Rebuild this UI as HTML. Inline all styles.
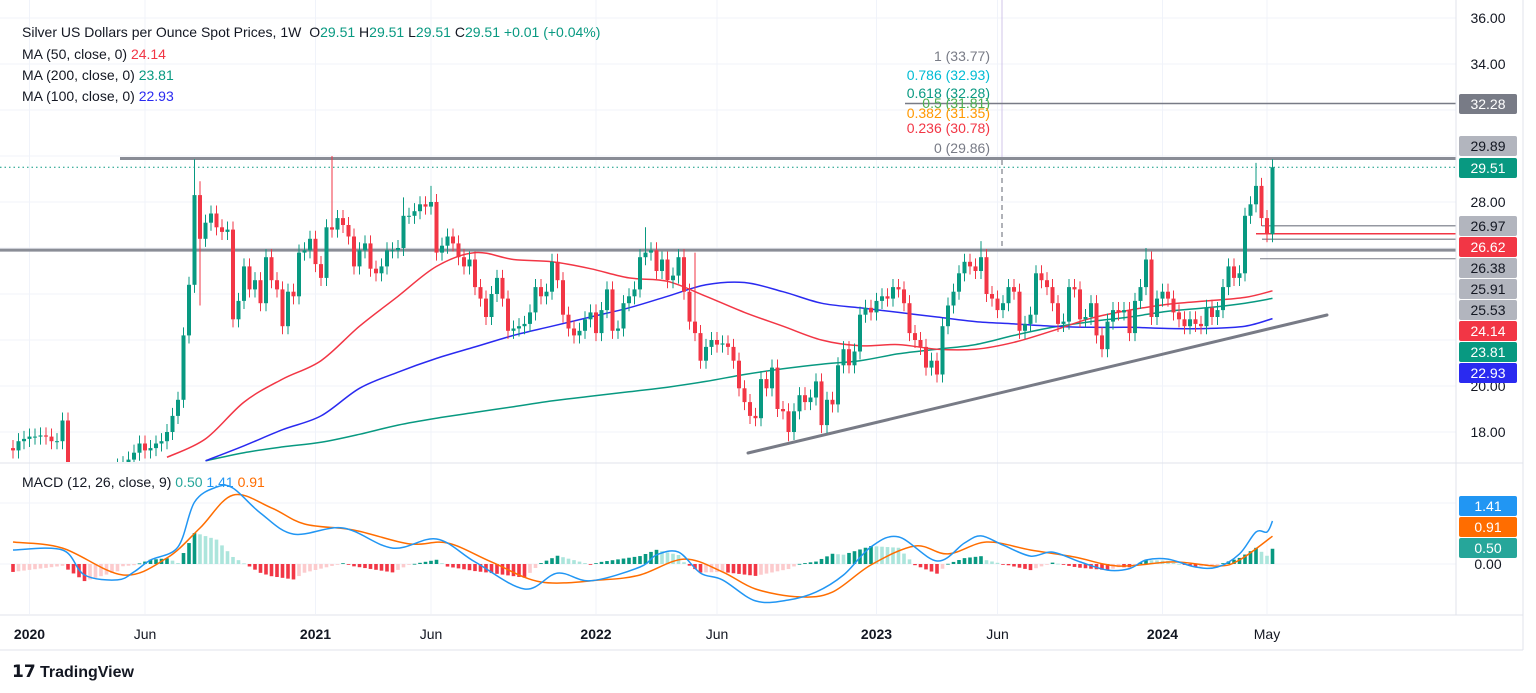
<!DOCTYPE html>
<html><head><meta charset="utf-8"><style>
html,body{margin:0;padding:0;background:#fff;}
svg{display:block;font-family:"Liberation Sans",sans-serif;}
</style></head><body>
<svg id="c" width="1536" height="693" viewBox="0 0 1536 693" xmlns="http://www.w3.org/2000/svg">
<defs>
<clipPath id="mainClip"><rect x="0" y="0" width="1456" height="462"/></clipPath>
<clipPath id="macdClip"><rect x="0" y="464" width="1456" height="150"/></clipPath>
</defs>
<g id="grid"></g>
<g id="main" clip-path="url(#mainClip)"></g>
<g id="macd" clip-path="url(#macdClip)"></g>
<g id="axes"></g>
<g id="legend">
<text x="22" y="37" font-size="14" fill="#131722">Silver US Dollars per Ounce Spot Prices, 1W <tspan dx="4">O</tspan><tspan fill="#089981">29.51</tspan> <tspan fill="#131722">H</tspan><tspan fill="#089981">29.51</tspan> <tspan fill="#131722">L</tspan><tspan fill="#089981">29.51</tspan> <tspan fill="#131722">C</tspan><tspan fill="#089981">29.51 +0.01 (+0.04%)</tspan></text>
<text x="22" y="59" font-size="14" fill="#131722">MA (50, close, 0) <tspan fill="#f23645">24.14</tspan></text>
<text x="22" y="80" font-size="14" fill="#131722">MA (200, close, 0) <tspan fill="#089981">23.81</tspan></text>
<text x="22" y="101" font-size="14" fill="#131722">MA (100, close, 0) <tspan fill="#2a2af0">22.93</tspan></text>
<text x="22" y="487" font-size="14" fill="#131722">MACD (12, 26, close, 9) <tspan fill="#26a69a">0.50</tspan> <tspan fill="#2196f3">1.41</tspan> <tspan fill="#ff6d00">0.91</tspan></text>
</g>
<g id="fib" font-size="14" text-anchor="end">
<text x="990" y="61" fill="#787b86">1 (33.77)</text>
<text x="990" y="80" fill="#00bcd4">0.786 (32.93)</text>
<text x="990" y="98" fill="#089981">0.618 (32.28)</text>
<text x="990" y="108" fill="#4caf50">0.5 (31.81)</text>
<text x="990" y="118" fill="#ff9800">0.382 (31.35)</text>
<text x="990" y="133" fill="#f23645">0.236 (30.78)</text>
<text x="990" y="153" fill="#787b86">0 (29.86)</text>
</g>
<g>
<text x="12" y="677" font-size="17" font-weight="bold" fill="#131722">𝟭𝟳</text>
<text x="40" y="677" font-size="16" font-weight="bold" fill="#131722">TradingView</text>
</g>
</svg>
<script>
// ---- data ----
const closes = [17.2,17.6,17.7,17.8,17.8,17.85,17.8,17.6,17.6,18.5,
16.0,14.5,14.0,14.8,15.0,15.3,15.5,15.8,16.2,16.5,
16.6,16.8,17.1,17.5,17.2,17.3,17.5,17.6,18.0,18.7,
19.4,22.2,24.4,28.3,26.4,27.1,27.5,26.9,26.7,26.8,
22.9,23.7,25.2,24.2,24.6,23.6,25.6,24.6,24.2,22.6,
24.1,23.9,25.8,25.9,26.4,25.3,24.7,26.9,26.8,27.3,
27.0,26.5,25.2,25.9,26.2,25.1,24.9,25.2,25.9,25.9,
26.0,27.4,27.4,27.6,27.9,27.8,28.0,25.8,26.1,26.5,
26.2,25.6,25.2,25.5,24.3,23.8,23.0,24.0,24.7,23.8,
22.4,22.5,22.6,22.7,23.2,24.3,23.9,24.1,25.4,24.6,
23.1,22.5,22.2,22.4,22.9,23.2,22.3,23.3,24.2,22.4,
22.5,23.6,23.9,24.2,25.6,25.8,25.9,25.0,25.5,24.6,
24.8,25.6,24.1,22.8,22.3,21.1,21.7,22.0,21.8,21.85,
21.7,21.1,19.9,19.3,18.7,18.6,20.3,19.9,20.8,19.0,
18.9,18.0,18.9,19.6,19.3,19.5,20.2,18.3,19.4,19.2,
20.9,21.6,20.9,21.5,23.1,23.4,23.2,23.7,23.9,23.8,
24.3,24.2,23.6,22.3,22.0,21.7,20.8,21.1,20.5,22.6,
23.5,24.1,24.9,25.4,25.2,25.0,25.6,24.0,23.8,23.3,
23.6,24.3,24.1,22.4,22.7,23.1,24.9,24.6,24.3,23.6,
22.7,22.8,24.3,24.2,22.9,23.0,23.6,22.2,21.6,22.8,
23.3,23.2,23.3,22.3,23.7,24.3,25.5,23.0,23.8,24.1,
23.8,23.2,22.9,22.6,22.9,22.7,22.6,23.4,23.0,23.3,
24.3,25.2,24.7,24.9,27.4,27.9,28.7,27.3,26.6,29.51];
const firstOpen = 17.3;
const spikeWeeks = [33,34,58,71,76,115,124,141,176,206,226];
const spikeHigh  = [29.86,28.9,30.0,28.2,28.7,26.9,25.8,null,26.3,26.0,29.7];
const spikeLow   = [null,23.5,null,null,null,null,null,17.6,null,null,null];
const ma50Start = 28;
const ma50 = [16.9,17.7,19.3,20.3,21.1,22.6,23.9,25.2,25.8,25.5,25.4,25.1,24.7,24.55,23.9,23.2,22.6,22.0,21.75,21.8,21.6,21.6,21.9,22.4,22.95,23.3,23.55,23.7,23.85];
const ma100Start = 35;
const ma100 = [16.75,17.4,18.1,18.7,19.9,20.6,21.2,21.7,22.2,22.6,23.0,23.4,23.9,24.4,24.5,24.1,23.6,23.4,23.2,23.0,22.8,22.7,22.6,22.55,22.55,22.5,22.5,22.6];
const ma200Start = 35;
const ma200 = [16.75,17.1,17.35,17.55,17.9,18.3,18.6,18.85,19.1,19.35,19.55,19.75,19.95,20.2,20.5,20.75,20.95,21.1,21.4,21.6,21.8,22.2,22.55,22.8,23.0,23.25,23.4,23.6];
const maStep = 7;
const ma50Last = 24.14, ma100Last = 22.93, ma200Last = 23.81;
const macdWeeks = [0,9,13,19,22,25,30,33,37,40,45,51,60,69,77,84,93,99,105,114,117,121,125,129,135,141,146,151,156,161,168,173,176,180,185,189,194,199,203,206,210,215,219,223,226,228,229];
const macdVals  = [0.46,0.46,-0.36,-0.52,-0.26,0.13,0.56,2.03,2.52,2.49,1.67,0.98,1.18,0.52,0.82,0.07,-0.82,-0.3,-0.55,-0.1,0.3,0.39,-0.3,-0.52,-1.21,-1.18,-0.92,-0.36,0.56,0.89,0.1,0.69,0.92,0.62,0.26,0.39,0.07,-0.2,-0.15,0.13,0.16,-0.1,-0.1,0.33,1.05,1.05,1.41];
const sigWeeks = [0,9,20,28,34,40,47,53,62,72,79,87,96,107,114,122,129,135,143,149,156,164,170,177,185,193,201,211,219,223,229];
const sigVals  = [0.72,0.52,-0.36,0.2,1.18,2.26,1.84,1.31,1.11,0.66,0.69,0.07,-0.59,-0.52,-0.36,0.16,-0.26,-0.82,-1.08,-0.92,-0.03,0.59,0.33,0.72,0.46,0.23,-0.07,0.07,-0.07,0.13,0.91];
const priceTicks = [36,34,28,20,18];
const priceGrid = [36,34,32,30,28,26,24,22,20,18];
const timeLabels = ["2020","Jun","2021","Jun","2022","Jun","2023","Jun","2024","May"];
const timeWeeks  = [3,24,55,76,106,128,157,179,209,228];
const timeBold   = [true,false,true,false,true,false,true,false,true,false];

// ---- scales ----
const X0 = 13, XS = 5.5;
const xw = w => X0 + w * XS;
const yp = p => 18 + (36 - p) * 23.0;
const ym = v => 564 - v * 30.5;
const NS = "http://www.w3.org/2000/svg";
function mk(tag, attrs, parent) {
  const e = document.createElementNS(NS, tag);
  for (const k in attrs) e.setAttribute(k, attrs[k]);
  parent.appendChild(e);
  return e;
}
function smoothPath(pts) {
  let d = 'M' + pts[0][0].toFixed(1) + ',' + pts[0][1].toFixed(1);
  for (let i = 0; i < pts.length - 1; i++) {
    const p0 = pts[Math.max(0, i - 1)], p1 = pts[i], p2 = pts[i + 1], p3 = pts[Math.min(pts.length - 1, i + 2)];
    const c1x = p1[0] + (p2[0] - p0[0]) / 6, c1y = p1[1] + (p2[1] - p0[1]) / 6;
    const c2x = p2[0] - (p3[0] - p1[0]) / 6, c2y = p2[1] - (p3[1] - p1[1]) / 6;
    d += ' C' + c1x.toFixed(1) + ',' + c1y.toFixed(1) + ' ' + c2x.toFixed(1) + ',' + c2y.toFixed(1) + ' ' + p2[0].toFixed(1) + ',' + p2[1].toFixed(1);
  }
  return d;
}
const G = document.getElementById('grid');
const M = document.getElementById('main');
const D = document.getElementById('macd');
const A = document.getElementById('axes');

// grid
priceGrid.forEach(p => {
  const l = mk('line', {x1:0, x2:1456, y1:yp(p), y2:yp(p), stroke:'#f0f3fa', 'stroke-width':1}, G);
  
  
});
[ym(2), ym(0)].forEach(y => {
  const l = mk('line', {x1:0, x2:1456, y1:y, y2:y, stroke:'#f0f3fa', 'stroke-width':1}, G);
  
  
});
timeWeeks.forEach(w => {
  const l = mk('line', {x1:xw(w), x2:xw(w), y1:0, y2:614, stroke:'#f0f3fa', 'stroke-width':1}, G);
  
  
});

function hline(y, x1, x2, color, sw, name, dash) {
  const l = mk('line', {x1:x1, x2:x2, y1:y, y2:y, stroke:color, 'stroke-width':sw}, M);
  if (dash) l.setAttribute('stroke-dasharray', dash);
  
  
}
let vl = mk('line', {x1:1002, x2:1002, y1:0, y2:158, stroke:'#d1c4e9', 'stroke-width':1}, M);


vl = mk('line', {x1:1002, x2:1002, y1:160, y2:248, stroke:'#9598a1', 'stroke-width':1.5, 'stroke-dasharray':'5 4'}, M);



hline(yp(25.91), 0, 1456, '#8a8d96', 3, 'support-line-25-91');
hline(yp(29.89), 120, 1456, '#8a8d96', 3, 'resistance-line-29-89');
hline(yp(32.28), 905, 1456, '#787b86', 1.5, 'fib-line-32-28');
hline(yp(26.97), 1262, 1456, '#9598a1', 1.5, 'level-26-97');
hline(yp(26.62), 1256, 1456, '#f23645', 1.5, 'level-26-62');
hline(yp(26.38), 1262, 1456, '#9598a1', 1.5, 'level-26-38');
hline(yp(25.53), 1260, 1456, '#787b86', 1, 'level-25-53');
hline(yp(29.51), 0, 1456, '#089981', 1, 'last-price-line', '1.5 3');

const tl = mk('line', {x1:748, y1:453, x2:1327, y2:315, stroke:'#787b86', 'stroke-width':3, 'stroke-linecap':'round'}, M);



function maLine(start, vals, last, color, name) {
  const pts = vals.map((v, i) => [xw(start + i * maStep), yp(v)]);
  pts.push([xw(closes.length - 1), yp(last)]);
  const pl = mk('path', {d: smoothPath(pts), fill:'none', stroke:color, 'stroke-width':1.5}, M);
  
  
}
maLine(ma200Start, ma200, ma200Last, '#089981', 'ma200-line');
maLine(ma100Start, ma100, ma100Last, '#2a2af0', 'ma100-line');
maLine(ma50Start, ma50, ma50Last, '#f23645', 'ma50-line');

for (let i = 0; i < closes.length; i++) {
  const o = i === 0 ? firstOpen : closes[i - 1];
  const c = closes[i];
  let h = Math.max(o, c) + 0.35, l = Math.min(o, c) - 0.35;
  const si = spikeWeeks.indexOf(i);
  if (si >= 0) {
    if (spikeHigh[si] !== null) h = spikeHigh[si];
    if (spikeLow[si] !== null) l = spikeLow[si];
  }
  const col = c >= o ? '#089981' : '#f23645';
  const x = xw(i);
  const g = mk('g', {}, M);
  
  
  mk('line', {x1:x, x2:x, y1:yp(h), y2:yp(l), stroke:col, 'stroke-width':1}, g);
  const top = yp(Math.max(o, c)), bot = yp(Math.min(o, c));
  mk('rect', {x:x - 2, y:top, width:4, height:Math.max(1, bot - top), fill:col}, g);
}

function interp(ws, vs, w) {
  if (w <= ws[0]) return vs[0];
  for (let k = 1; k < ws.length; k++) {
    if (w <= ws[k]) { const t = (w - ws[k-1]) / (ws[k] - ws[k-1]); return vs[k-1] + t * (vs[k] - vs[k-1]); }
  }
  return vs[vs.length - 1];
}
let prevH = 0;
for (let i = 0; i < closes.length; i++) {
  const hv = interp(macdWeeks, macdVals, i) - interp(sigWeeks, sigVals, i);
  let col;
  if (hv >= 0) col = hv >= prevH ? '#089981' : '#ace5dc';
  else col = hv <= prevH ? '#f23645' : '#fccbcd';
  prevH = hv;
  const y0 = ym(0), y1 = ym(hv);
  const r = mk('rect', {x:xw(i) - 1.8, y:Math.min(y0, y1), width:3.6, height:Math.max(0.8, Math.abs(y1 - y0)), fill:col}, D);
  
  
}
function mline(ws, vs, color, name) {
  const pts = ws.map((w, k) => [xw(w), ym(vs[k])]);
  const pl = mk('path', {d: smoothPath(pts), fill:'none', stroke:color, 'stroke-width':1.5}, D);
  
  
}
mline(sigWeeks, sigVals, '#ff6d00', 'signal-line');
mline(macdWeeks, macdVals, '#2196f3', 'macd-line');

[[0,463,1523,463],[0,615,1523,615],[1523,0,1523,650],[1456,0,1456,615],[0,650,1523,650]].forEach(s => {
  const l = mk('line', {x1:s[0], y1:s[1], x2:s[2], y2:s[3], stroke:'#e0e3eb', 'stroke-width':1}, A);
  
  
});
priceTicks.forEach(p => {
  const t = mk('text', {x:1488, y:yp(p) + 5, 'font-size':14, fill:'#131722', 'text-anchor':'middle'}, A);
  t.textContent = p.toFixed(2);
  
  
});
const t0 = mk('text', {x:1488, y:ym(0) + 5, 'font-size':14, fill:'#131722', 'text-anchor':'middle'}, A);
t0.textContent = '0.00';



function box(y, label, bg, fg, name) {
  const g = mk('g', {}, A);
  
  
  mk('rect', {x:1459, y:y - 10, width:58, height:20, rx:2, fill:bg}, g);
  const t = mk('text', {x:1488, y:y + 5, 'font-size':14, fill:fg, 'text-anchor':'middle'}, g);
  t.textContent = label;
}
box(104, '32.28', '#787b86', '#fff', 'label-32-28');
box(146, '29.89', '#b2b5be', '#131722', 'label-29-89');
box(168, '29.51', '#089981', '#fff', 'label-last-price');
box(226, '26.97', '#b2b5be', '#131722', 'label-26-97');
box(247, '26.62', '#f23645', '#fff', 'label-26-62');
box(268, '26.38', '#b2b5be', '#131722', 'label-26-38');
box(289, '25.91', '#b2b5be', '#131722', 'label-25-91');
box(310, '25.53', '#b2b5be', '#131722', 'label-25-53');
box(331, '24.14', '#f23645', '#fff', 'label-ma50');
box(352, '23.81', '#089981', '#fff', 'label-ma200');
box(373, '22.93', '#2a2af0', '#fff', 'label-ma100');
box(506, '1.41', '#2196f3', '#fff', 'label-macd');
box(527, '0.91', '#ff6d00', '#fff', 'label-signal');
box(548, '0.50', '#26a69a', '#fff', 'label-histogram');

timeLabels.forEach((lab, k) => {
  const t = mk('text', {x:xw(timeWeeks[k]), y:639, 'font-size':14, fill:'#131722', 'text-anchor':'middle', 'font-weight': timeBold[k] ? 'bold' : 'normal'}, A);
  t.textContent = lab;
  
  
});
</script>
</body></html>
